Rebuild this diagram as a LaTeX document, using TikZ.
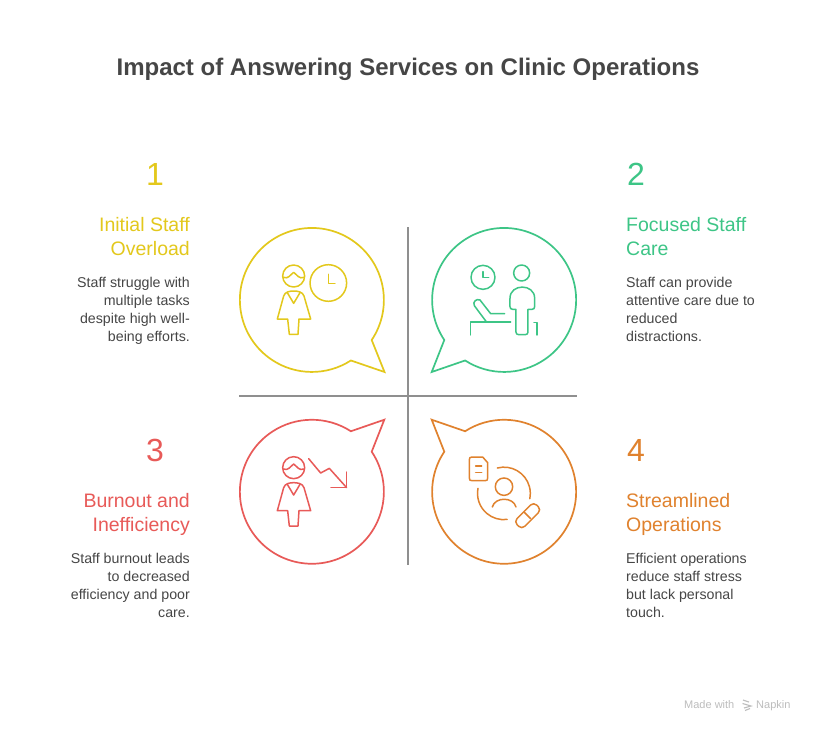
\documentclass[tikz,border=0pt]{standalone}
\usepackage{fontspec}
\setmainfont{Liberation Sans}
\definecolor{cyel}{HTML}{E3C81C}
\definecolor{cgrn}{HTML}{3DC586}
\definecolor{cred}{HTML}{E85A58}
\definecolor{corg}{HTML}{E0822E}
\definecolor{ctxt}{HTML}{464646}
\definecolor{cdiv}{HTML}{8F8F8F}
\definecolor{cmark}{HTML}{BDBDBD}
\tikzset{
  titletext/.style={inner sep=0pt,anchor=base,text=ctxt,font=\fontsize{24}{28}\selectfont\bfseries},
  numtext/.style={inner sep=0pt,anchor=base,font=\fontsize{32}{36}\selectfont},
  headleft/.style={inner sep=0pt,anchor=north west,align=left,font=\fontsize{19.5}{24}\selectfont},
  headright/.style={inner sep=0pt,anchor=north east,align=right,font=\fontsize{19.5}{24}\selectfont},
  bodyleft/.style={inner sep=0pt,anchor=north west,align=left,text=ctxt,font=\fontsize{14.2}{18}\selectfont},
  bodyright/.style={inner sep=0pt,anchor=north east,align=right,text=ctxt,font=\fontsize{14.2}{18}\selectfont},
  bubble/.style={line width=1.7pt,miter limit=10},
  icon/.style={line width=1.5pt,line cap=round,line join=round},
  divider/.style={line width=2pt,cdiv},
  zoomA/.style={shift={(230,-220)},x=0.3333pt,y=-0.3333pt},
  zoomB/.style={shift={(410,-220)},x=0.3333pt,y=-0.3333pt},
  zoomC/.style={shift={(230,-400)},x=0.3333pt,y=-0.3333pt},
  zoomD/.style={shift={(410,-400)},x=0.3333pt,y=-0.3333pt},
}
\newcommand{\staffperson}{%
  \draw[icon] (191,0) ++(0,0) circle[radius=11pt];
  \draw[icon] (160,4) .. controls (175,10) and (180,-3) .. (191,-11) .. controls (202,-3) and (207,10) .. (222,4);
  \draw[icon] (142,129) -- (161,60) .. controls (165,47) and (180,45) .. (191,45) .. controls (202,45) and (218,47) .. (222,60) -- (242,129) -- (207,129) -- (204,175) -- (178,175) -- (173,129) -- cycle;
  \draw[icon] (172,50) -- (191,82) -- (210,50);
}
\begin{document}
\begin{tikzpicture}[x=1pt,y=1pt]
\useasboundingbox (0,0) rectangle (816,-732);
\fill[white] (0,0) rectangle (816,-732);

\node[titletext] (title) at (408,-75) {Impact of Answering Services on Clinic Operations};

% dividers
\coordinate (vtop) at (408,-227);
\coordinate (vbot) at (408,-565);
\coordinate (hleft) at (239,-396);
\coordinate (hright) at (577,-396);
\draw[divider] (vtop) -- (vbot);
\draw[divider] (hleft) -- (hright);

% bubbles
\draw[bubble,cyel] (371.7,-340) arc[start angle=-33.8,end angle=302.8,radius=72pt] -- (384.5,-372) -- cycle;
\draw[bubble,cgrn] (444.3,-340) arc[start angle=213.8,end angle=-122.8,radius=72pt] -- (431.7,-372) -- cycle;
\draw[bubble,cred] (371.7,-451.7) arc[start angle=33.8,end angle=-302.8,radius=72pt] -- (384.3,-419.7) -- cycle;
\draw[bubble,corg] (444.3,-451.7) arc[start angle=146.2,end angle=482.8,radius=72pt] -- (431.7,-419.7) -- cycle;

% icon 1
\begin{scope}[zoomA,cyel]
  \begin{scope}[yshift=-56pt]\staffperson\end{scope}
  \draw[icon] (295,189) circle[radius=18.3pt];
  \draw[icon] (295,163) -- (295,191) -- (315,191);
\end{scope}

% icon 2
\begin{scope}[zoomB,cgrn]
  \draw[icon] (219,172) circle[radius=12pt];
  \draw[icon] (219,155) -- (219,172) -- (236,172);
  \draw[icon] (335,159) circle[radius=8pt];
  \draw[icon] (318,268) -- (308,268) .. controls (303,268) and (300,265) .. (300,260) -- (300,235) .. controls (300,190) and (374,190) .. (374,235) -- (374,260) .. controls (374,265) and (371,268) .. (366,268) -- (354,268) -- (354,336) .. controls (354,341) and (351,344) .. (346,344) -- (326,344) .. controls (321,344) and (318,341) .. (318,336) -- cycle;
  \draw[icon] (182,345) -- (182,306) -- (302,306);
  \draw[icon] (228,304) -- (193,257) .. controls (187,245) and (200,235) .. (210,240) -- (242,281) -- (284,281);
  \draw[icon] (372,307) -- (381,307) -- (381,345);
\end{scope}

% icon 3
\begin{scope}[zoomC,cred]
  \begin{scope}[yshift=-67.67pt]\staffperson\end{scope}
  \draw[icon] (236,176) -- (272,219) -- (298,205) -- (350,263);
  \draw[icon] (303,263) -- (350,263) -- (350,216);
\end{scope}

% icon 4
\begin{scope}[zoomD,corg]
  \draw[icon] (218,171) -- (186,171) .. controls (180,171) and (178,174) .. (178,179) -- (178,234) .. controls (178,240) and (180,242) .. (186,242) -- (226,242) .. controls (231,242) and (233,240) .. (233,234) -- (233,188) -- cycle;
  \draw[icon] (197,198) -- (215,198);
  \draw[icon] (197,217) -- (215,217);
  \draw[icon] (282,260) circle[radius=8.7pt];
  \draw[icon] (247,321) .. controls (255,290) and (310,290) .. (318,321);
  \draw[icon] (344,338) -- (362,356);
\end{scope}
\draw[icon,corg] (497.33,-468) arc[start angle=104.7,end angle=-11.6,radius=26.3pt];
\draw[icon,corg] (478,-488.33) arc[start angle=169,end angle=277.3,radius=26.3pt];
\draw[icon,corg,rounded corners=4.4pt,rotate around={45:(527.67,-515.67)}] (513.77,-521.17) rectangle (541.57,-510.17);

% quadrant 1 text
\node[numtext,cyel] (n1) at (155,-185) {1};
\node[headright,cyel] (h1) at (190,-217) {Initial Staff\\Overload};
\node[bodyright] (b1) at (190,-277) {Staff struggle with\\multiple tasks\\despite high well-\\being efforts.};

% quadrant 2 text
\node[numtext,cgrn] (n2) at (636,-185) {2};
\node[headleft,cgrn] (h2) at (626,-217) {Focused Staff\\Care};
\node[bodyleft] (b2) at (626,-277) {Staff can provide\\attentive care due to\\reduced\\distractions.};

% quadrant 3 text
\node[numtext,cred] (n3) at (155,-461) {3};
\node[headright,cred] (h3) at (190,-493) {Burnout and\\Inefficiency};
\node[bodyright] (b3) at (190,-553) {Staff burnout leads\\to decreased\\efficiency and poor\\care.};

% quadrant 4 text
\node[numtext,corg] (n4) at (636,-461) {4};
\node[headleft,corg] (h4) at (626,-493) {Streamlined\\Operations};
\node[bodyleft] (b4) at (626,-553) {Efficient operations\\reduce staff stress\\but lack personal\\touch.};

% footer
\node[inner sep=0pt,anchor=base west,text=cmark,font=\fontsize{11}{13}\selectfont] (made) at (684,-708) {Made with};
\node[inner sep=0pt,anchor=base west,text=cmark,font=\fontsize{11}{13}\selectfont] (napkin) at (756,-708) {Napkin};
\draw[cmark,line width=1.1pt] (743,-700) -- (749,-702) (742.5,-703.5) -- (751,-706) -- (744,-708) (745,-710.5) -- (750,-708.5);
\end{tikzpicture}
\end{document}
